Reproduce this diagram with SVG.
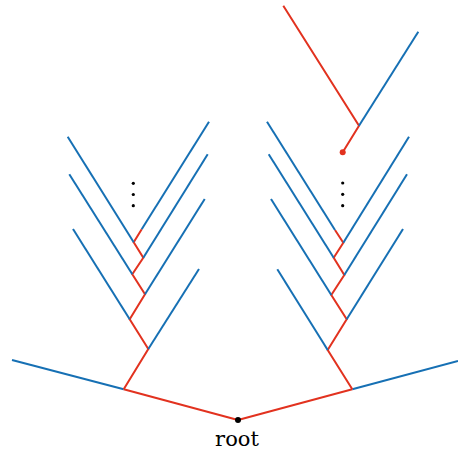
<svg xmlns="http://www.w3.org/2000/svg" width="458" height="452" viewBox="0 0 458 452">
<style>
.b{stroke:#1670b4;stroke-width:2;fill:none;stroke-linecap:butt}
.r{stroke:#e2321f;stroke-width:2;fill:none;stroke-linejoin:miter}
.d{fill:#000}
.t{font-family:"DejaVu Serif","Liberation Serif",serif;font-size:21px;fill:#000}
</style>
<rect width="458" height="452" fill="#fff"/>
<g id="connectors">
  <!-- root edges -->
  <path class="r" d="M238,420 L123.7,389.3"/>
  <path class="r" d="M238,420 L352.3,389.3"/>
  <!-- left subtree -->
  <path class="b" d="M123.7,389.3 L12,360"/>
  <path class="r" d="M123.7,389.3 L148.3,349 L129.7,319.3 L145,294.3 L132.3,274.3 L143.3,257.7 L133.7,242.3 L141.7,229.3"/>
  <path class="b" d="M148.3,349 L199,269"/>
  <path class="b" d="M129.7,319.3 L73,229"/>
  <path class="b" d="M145,294.3 L204.7,199"/>
  <path class="b" d="M132.3,274.3 L69.3,174.3"/>
  <path class="b" d="M143.3,257.7 L207.7,154.3"/>
  <path class="b" d="M133.7,242.3 L67.7,136.7"/>
  <path class="b" d="M141.7,229.3 L209,121.7"/>
  <!-- right subtree -->
  <path class="b" d="M352.3,389.3 L458,361"/>
  <path class="r" d="M352.3,389.3 L327.7,350 L346.7,319.3 L331.3,295 L344.3,275 L333.7,257.7 L343.3,242.7 L335,230"/>
  <path class="b" d="M327.7,350 L277.3,269.3"/>
  <path class="b" d="M346.7,319.3 L403,229"/>
  <path class="b" d="M331.3,295 L271,199"/>
  <path class="b" d="M344.3,275 L407,174.3"/>
  <path class="b" d="M333.7,257.7 L268.7,154.3"/>
  <path class="b" d="M343.3,242.7 L409,136.7"/>
  <path class="b" d="M335,230 L267,121.7"/>
  <!-- top right fragment -->
  <path class="r" d="M342.7,152.3 L359,125.7 L283.3,5.7"/>
  <path class="b" d="M359,125.7 L418.3,31.7"/>
</g>
<g id="root">
  <circle class="d" cx="238" cy="420" r="3"/>
  <text class="t" x="237" y="446" text-anchor="middle">root</text>
</g>
<g id="dots-left">
  <circle class="d" cx="133.3" cy="183.3" r="1.6"/>
  <circle class="d" cx="133.3" cy="194.5" r="1.6"/>
  <circle class="d" cx="133.3" cy="205.7" r="1.6"/>
</g>
<g id="dots-right">
  <circle class="d" cx="342.7" cy="183" r="1.6"/>
  <circle class="d" cx="342.7" cy="194.3" r="1.6"/>
  <circle class="d" cx="342.7" cy="205.7" r="1.6"/>
</g>
<g id="fragment-node">
  <circle cx="342.7" cy="152.3" r="3" fill="#e2321f"/>
</g>
</svg>
